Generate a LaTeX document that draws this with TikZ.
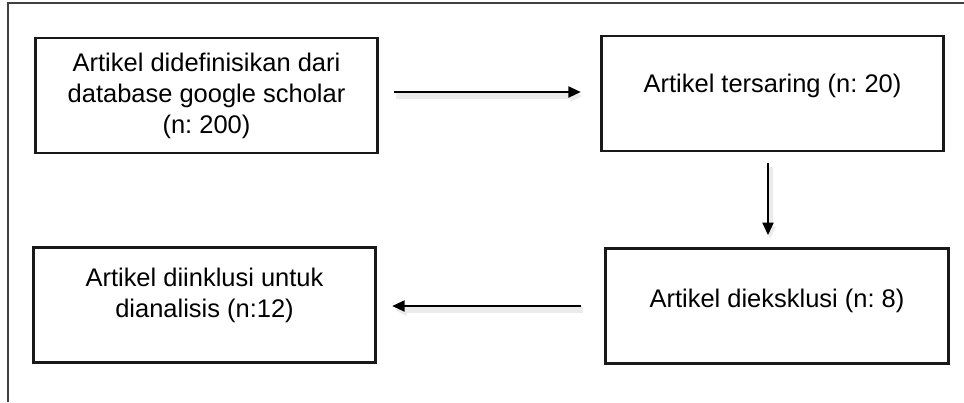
\documentclass[tikz,border=0pt]{standalone}
\usepackage{fontspec}
\setmainfont{Liberation Sans}
\usepackage{tikz}
\usetikzlibrary{arrows.meta,positioning}
\frenchspacing

\tikzset{
  kotak/.style={draw=black!90, line width=1.6pt, minimum width=6.85cm, minimum height=2.3cm,
    align=center, inner sep=0pt},
  panah/.style={-{Triangle[length=0.25cm,width=0.22cm]}, line width=1.2pt,
    preaction={draw=black!8, line width=3pt, transform canvas={shift={(0.04cm,-0.08cm)}}}}
}

\begin{document}
\begin{tikzpicture}[font=\fontsize{14.5}{17.6}\selectfont]
\useasboundingbox (0,0) rectangle (19.28,-8.04);
% bingkai luar
\draw[black!75, line width=0.6pt] (0.16,-8.04) -- (0.16,-0.06) -- (19.28,-0.06);
% kotak-kotak
\node[kotak] (definisi) at (4.13,-1.91) {Artikel didefinisikan dari\\database google scholar\\(n: 200)};
\node[kotak, text depth=0.4cm] (saring) at (15.45,-1.87) {Artikel tersaring (n: 20)};
\node[kotak, text depth=0.32cm] (eksklusi) at (15.54,-6.12) {Artikel dieksklusi (n: 8)};
\node[kotak, text depth=0.5cm] (inklusi) at (4.09,-6.10) {Artikel diinklusi untuk\\dianalisis (n:12)};
% panah
\draw[panah, shorten <=0.3cm, shorten >=0.38cm] ([yshift=0.07cm]definisi.east) -- ([yshift=0.07cm]definisi.east -| saring.west);
\draw[panah, shorten <=0.22cm, shorten >=0.24cm] ([xshift=-0.09cm]saring.south) -- ([xshift=-0.09cm]saring.south |- eksklusi.north);
\draw[panah, shorten <=0.46cm, shorten >=0.3cm] (eksklusi.west) -- (eksklusi.west -| inklusi.east);
\end{tikzpicture}
\end{document}
